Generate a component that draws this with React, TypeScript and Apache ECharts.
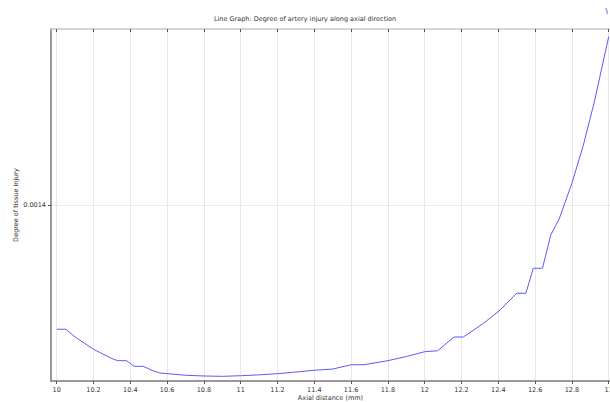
import React, { useEffect, useRef } from "react";
import * as echarts from "echarts";

const xTicks = [10, 10.2, 10.4, 10.6, 10.8, 11, 11.2, 11.4, 11.6, 11.8, 12, 12.2, 12.4, 12.6, 12.8, 13];
const yTicks = [0.0014];
const axialDistance = [
  10.0, 10.05, 10.1, 10.2, 10.3, 10.33, 10.38, 10.42, 10.47, 10.52, 10.56, 10.7, 10.8, 10.9,
  11.0, 11.1, 11.2, 11.3, 11.4, 11.5, 11.6, 11.67, 11.8, 11.9, 12.0, 12.07, 12.16, 12.21,
  12.32, 12.41, 12.5, 12.55, 12.59, 12.64, 12.685, 12.73, 12.8, 12.86, 12.92, 12.96, 13.0,
];
const injury = [
  0.0012588, 0.0012588, 0.00125, 0.001236, 0.0012256, 0.0012231, 0.0012231, 0.0012167, 0.0012167,
  0.0012119, 0.0012091, 0.0012065, 0.0012057, 0.0012053, 0.001206, 0.001207, 0.0012083, 0.0012102,
  0.0012122, 0.0012136, 0.0012185, 0.0012185, 0.0012231, 0.0012278, 0.0012333, 0.0012344, 0.00125,
  0.00125, 0.0012656, 0.0012807, 0.0012997, 0.0012997, 0.0013281, 0.0013281, 0.0013659, 0.0013838,
  0.0014247, 0.0014663, 0.0015156, 0.0015534, 0.0015913,
];

const FONT = "DejaVu Sans";

export default function App() {
  const ref = useRef<HTMLDivElement>(null);
  useEffect(() => {
    document.body.style.margin = "0";
    const chart = echarts.init(ref.current!, null, { renderer: "svg" });
    const axisLineStyle = { color: "#7a7a7a", width: 1.5 };
    chart.setOption({
      animation: false,
      backgroundColor: "#ffffff",
      title: {
        text: "Line Graph: Degree of artery injury along axial direction",
        left: 300,
        textAlign: "center",
        top: 10,
        textStyle: { fontFamily: FONT, fontSize: 6.5, fontWeight: "normal", color: "#333" },
      },
      grid: { left: 51, top: 29, bottom: 21, right: 0, outerBoundsMode: "none", containLabel: false },
      xAxis: [
        {
          type: "value",
          min: 9.969,
          max: 13.007,
          name: "Axial distance (mm)",
          nameLocation: "middle",
          nameGap: 13,
          nameMoveOverlap: false,
          nameTextStyle: { fontFamily: FONT, fontSize: 6.5, color: "#333" },
          axisLine: { show: true, lineStyle: axisLineStyle },
          axisTick: { show: true, customValues: xTicks, length: 3, lineStyle: { color: "#555" } },
          axisLabel: {
            customValues: xTicks,
            fontFamily: FONT,
            fontSize: 6.5,
            color: "#333",
            margin: 5,
            formatter: (v: number) => String(Math.round(v * 10) / 10),
          },
          splitLine: { show: true, lineStyle: { color: "#e8e8e8", width: 1 } },
        },
        {
          type: "value",
          position: "top",
          min: 9.969,
          max: 13.007,
          axisLine: { show: true, lineStyle: { color: "#c8c8c8", width: 1.5 } },
          axisTick: { show: true, inside: true, customValues: xTicks, length: 3, lineStyle: { color: "#555" } },
          axisLabel: { show: false },
          splitLine: { show: false },
        },
      ],
      yAxis: {
        type: "value",
        min: 0.0012,
        max: 0.0016,
        name: "Degree of tissue injury",
        nameLocation: "middle",
        nameGap: 32,
        nameMoveOverlap: false,
        nameTextStyle: { fontFamily: FONT, fontSize: 6.5, color: "#333" },
        axisLine: { show: true, lineStyle: axisLineStyle },
        axisTick: { show: true, customValues: yTicks, length: 3, lineStyle: { color: "#555" } },
        axisLabel: {
          customValues: yTicks,
          fontFamily: FONT,
          fontSize: 6.5,
          color: "#333",
          margin: 5,
          formatter: (v: number) => v.toFixed(4),
        },
        splitLine: { show: true, lineStyle: { color: "#e8e8e8", width: 1 } },
      },
      graphic: [
        {
          type: "line",
          shape: { x1: 606, y1: 8, x2: 607.5, y2: 14 },
          style: { stroke: "#9aa6e8", lineWidth: 1.5 },
        },
      ],
      series: [
        {
          type: "line",
          xAxisIndex: 0,
          data: axialDistance.map((x, i) => [x, injury[i]]),
          showSymbol: false,
          lineStyle: { color: "#5a5aff", width: 1 },
          clip: false,
        },
      ],
    });
    return () => chart.dispose();
  }, []);
  return <div ref={ref} style={{ width: 610, height: 402 }} />;
}
